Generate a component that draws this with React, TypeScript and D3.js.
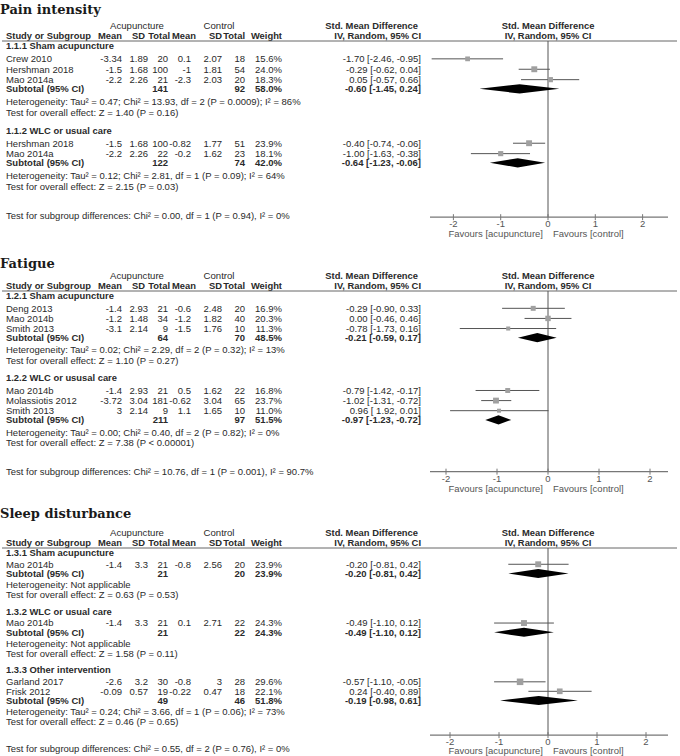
import React from 'react';
import * as d3 from 'd3';

const W = 680;
const H = 756;

// study rows: [subgroup, name, acu mean, acu sd, acu n, ctl mean, ctl sd, ctl n, weight, smd, lo, hi, label?]
const painGroups = ['1.1.1 Sham acupuncture', '1.1.2 WLC or usual care'];
const painStudies: any[] = [
  [0, 'Crew 2010', -3.34, 1.89, 20, 0.1, 2.07, 18, 15.6, -1.7, -2.46, -0.95],
  [0, 'Hershman 2018', -1.5, 1.68, 100, -1, 1.81, 54, 24.0, -0.29, -0.62, 0.04],
  [0, 'Mao 2014a', -2.2, 2.26, 21, -2.3, 2.03, 20, 18.3, 0.05, -0.57, 0.66],
  [1, 'Hershman 2018', -1.5, 1.68, 100, -0.82, 1.77, 51, 23.9, -0.4, -0.74, -0.06],
  [1, 'Mao 2014a', -2.2, 2.26, 22, -0.2, 1.62, 23, 18.1, -1.0, -1.63, -0.38],
];
// [acu total, ctl total, weight, smd, lo, hi]
const painSubtotals = [
  [141, 92, 58.0, -0.6, -1.45, 0.24],
  [122, 74, 42.0, -0.64, -1.23, -0.06],
];
const painHetero = [
  'Heterogeneity: Tau² = 0.47; Chi² = 13.93, df = 2 (P = 0.0009); I² = 86%',
  'Heterogeneity: Tau² = 0.12; Chi² = 2.81, df = 1 (P = 0.09); I² = 64%',
];
const painOverall = ['Test for overall effect: Z = 1.40 (P = 0.16)', 'Test for overall effect: Z = 2.15 (P = 0.03)'];
const painSubgroupTest = 'Test for subgroup differences: Chi² = 0.00, df = 1 (P = 0.94), I² = 0%';

const fatigueGroups = ['1.2.1 Sham acupuncture', '1.2.2 WLC or ususal care'];
const fatigueStudies: any[] = [
  [0, 'Deng 2013', -1.4, 2.93, 21, -0.6, 2.48, 20, 16.9, -0.29, -0.9, 0.33],
  [0, 'Mao 2014b', -1.2, 1.48, 34, -1.2, 1.82, 40, 20.3, 0.0, -0.46, 0.46],
  [0, 'Smith 2013', -3.1, 2.14, 9, -1.5, 1.76, 10, 11.3, -0.78, -1.73, 0.16],
  [1, 'Mao 2014b', -1.4, 2.93, 21, 0.5, 1.62, 22, 16.8, -0.79, -1.42, -0.17],
  [1, 'Molassiotis 2012', -3.72, 3.04, 181, -0.62, 3.04, 65, 23.7, -1.02, -1.31, -0.72],
  [1, 'Smith 2013', 3, 2.14, 9, 1.1, 1.65, 10, 11.0, -0.96, -1.92, 0.01, '0.96 [ 1.92, 0.01]'],
];
const fatigueSubtotals = [
  [64, 70, 48.5, -0.21, -0.59, 0.17],
  [211, 97, 51.5, -0.97, -1.23, -0.72],
];
const fatigueHetero = [
  'Heterogeneity: Tau² = 0.02; Chi² = 2.29, df = 2 (P = 0.32); I² = 13%',
  'Heterogeneity: Tau² = 0.00; Chi² = 0.40, df = 2 (P = 0.82); I² = 0%',
];
const fatigueOverall = ['Test for overall effect: Z = 1.10 (P = 0.27)', 'Test for overall effect: Z = 7.38 (P < 0.00001)'];
const fatigueSubgroupTest = 'Test for subgroup differences: Chi² = 10.76, df = 1 (P = 0.001), I² = 90.7%';

const sleepGroups = ['1.3.1 Sham acupuncture', '1.3.2 WLC or usual care', '1.3.3 Other intervention'];
const sleepStudies: any[] = [
  [0, 'Mao 2014b', -1.4, 3.3, 21, -0.8, 2.56, 20, 23.9, -0.2, -0.81, 0.42],
  [1, 'Mao 2014b', -1.4, 3.3, 21, 0.1, 2.71, 22, 24.3, -0.49, -1.1, 0.12],
  [2, 'Garland 2017', -2.6, 3.2, 30, -0.8, 3, 28, 29.6, -0.57, -1.1, -0.05],
  [2, 'Frisk 2012', -0.09, 0.57, 19, -0.22, 0.47, 18, 22.1, 0.24, -0.4, 0.89],
];
const sleepSubtotals = [
  [21, 20, 23.9, -0.2, -0.81, 0.42],
  [21, 22, 24.3, -0.49, -1.1, 0.12],
  [49, 46, 51.8, -0.19, -0.98, 0.61],
];
const sleepHetero = [
  'Heterogeneity: Not applicable',
  'Heterogeneity: Not applicable',
  'Heterogeneity: Tau² = 0.24; Chi² = 3.66, df = 1 (P = 0.06); I² = 73%',
];
const sleepOverall = [
  'Test for overall effect: Z = 0.63 (P = 0.53)',
  'Test for overall effect: Z = 1.58 (P = 0.11)',
  'Test for overall effect: Z = 0.46 (P = 0.65)',
];
const sleepSubgroupTest = 'Test for subgroup differences: Chi² = 0.55, df = 2 (P = 0.76), I² = 0%';

const tickValues = [-2, -1, 0, 1, 2];

const SANS = '"Liberation Sans", Arial, sans-serif';
const TXT = '#2a2a2a';
const FS = 9.5; // table text
const FB = 9.4; // bold header text
const cols = { m1: 122, sd1: 148, n1: 168, m2: 191, sd2: 222, n2: 245, wt: 282, est: 421 };
const hdr = { m1: 122, sd1: 145, n1: 170, m2: 196, sd2: 222, n2: 245, wt: 282 };

const fmtCI = (e: number, lo: number, hi: number) => `${e.toFixed(2)} [${lo.toFixed(2)}, ${hi.toFixed(2)}]`;

function Panel(props: any) {
  const { title, groups, studies, subtotals, hetero, overall, subgroupTest, titleY, lineY, k, unit, axisShift, favGap } = props;
  const x0 = 548;
  const x = d3.scaleLinear().domain([-2, 2]).range([x0 - 2 * unit, x0 + 2 * unit]);
  const side = d3.scaleSqrt().domain([0, 30]).range([0, 6.6]);

  // vertical layout of rows
  let y = lineY + 5 * k;
  let lastTest = y;
  const blocks = groups.map((g: string, gi: number) => {
    const labelY = y;
    const rows = studies.filter((s: any) => s[0] === gi).map((s: any, i: number) => ({ s, y: labelY + 12.5 * k + i * 10.2 * k }));
    const subY = rows[rows.length - 1].y + 9.2;
    const hetY = subY + 12.5 * k;
    const testY = hetY + 10.8 * k;
    lastTest = testY;
    y = testY + 17.5 * k;
    return { g, gi, labelY, rows, subY, hetY, testY };
  });
  const subgroupY = lastTest + 29 * k;
  const axisY = subgroupY + axisShift;

  const t = (txt: any, tx: number, ty: number, anchor = 'start', bold = false, extra: any = {}) => (
    <text x={tx} y={ty} dy="0.35em" textAnchor={anchor} fontWeight={bold ? 'bold' : 'normal'}
      fontSize={bold ? FB : FS} {...extra}>{txt}</text>
  );

  return (
    <g fontFamily={SANS} fill={TXT}>
      <text x={0} y={titleY} dy="0.35em" fontFamily='"DejaVu Serif", serif' fontSize={13} fontWeight="bold" fill="#1a1a1a">{title}</text>

      {t('Acupuncture', 137, lineY - 15, 'middle', false, { fontSize: 9.6 })}
      {t('Control', 219, lineY - 15, 'middle', false, { fontSize: 9.6 })}
      {t('Std. Mean Difference', 418, lineY - 15, 'end', true)}
      {t('Std. Mean Difference', x(0), lineY - 15, 'middle', true)}
      {t('Study or Subgroup', 6, lineY - 5, 'start', true)}
      {t('Mean', hdr.m1, lineY - 5, 'end', true)}
      {t('SD', hdr.sd1, lineY - 5, 'end', true)}
      {t('Total', hdr.n1, lineY - 5, 'end', true)}
      {t('Mean', hdr.m2, lineY - 5, 'end', true)}
      {t('SD', hdr.sd2, lineY - 5, 'end', true)}
      {t('Total', hdr.n2, lineY - 5, 'end', true)}
      {t('Weight', hdr.wt, lineY - 5, 'end', true)}
      {t('IV, Random, 95% CI', cols.est, lineY - 5, 'end', true)}
      {t('IV, Random, 95% CI', x(0), lineY - 5, 'middle', true)}
      <line x1={2} x2={677} y1={lineY} y2={lineY} stroke="#666" strokeWidth={1} />

      <line x1={x(0)} x2={x(0)} y1={lineY} y2={axisY} stroke="#555" strokeWidth={1} />

      {blocks.map((b: any) => {
        const [n1, n2, wt, e, lo, hi] = subtotals[b.gi];
        const dh = 4.6;
        return (
          <g key={b.gi}>
            {t(b.g, 6, b.labelY, 'start', true)}
            {b.rows.map((r: any, i: number) => {
              const s = r.s;
              const sz = side(s[8]);
              return (
                <g key={i}>
                  {t(s[1], 6, r.y)}
                  {t(String(s[2]), cols.m1, r.y, 'end')}
                  {t(String(s[3]), cols.sd1, r.y, 'end')}
                  {t(String(s[4]), cols.n1, r.y, 'end')}
                  {t(String(s[5]), cols.m2, r.y, 'end')}
                  {t(String(s[6]), cols.sd2, r.y, 'end')}
                  {t(String(s[7]), cols.n2, r.y, 'end')}
                  {t(s[8].toFixed(1) + '%', cols.wt, r.y, 'end')}
                  {t(s[12] || fmtCI(s[9], s[10], s[11]), cols.est, r.y, 'end')}
                  <line x1={x(s[10])} x2={x(s[11])} y1={r.y} y2={r.y} stroke="#555" strokeWidth={1} />
                  <rect x={x(s[9]) - sz / 2} y={r.y - sz / 2} width={sz} height={sz} fill="#a0a0a0" />
                </g>
              );
            })}
            {t('Subtotal (95% CI)', 6, b.subY, 'start', true, { fontSize: FS })}
            {t(String(n1), cols.n1, b.subY, 'end', true, { fontSize: FS })}
            {t(String(n2), cols.n2, b.subY, 'end', true, { fontSize: FS })}
            {t(wt.toFixed(1) + '%', cols.wt, b.subY, 'end', true, { fontSize: FS })}
            {t(fmtCI(e, lo, hi), cols.est, b.subY, 'end', true, { fontSize: FS })}
            <path d={`M${x(lo)},${b.subY} L${x(e)},${b.subY - dh} L${x(hi)},${b.subY} L${x(e)},${b.subY + dh} Z`} fill="#000" />
            {t(hetero[b.gi], 6, b.hetY)}
            {t(overall[b.gi], 6, b.testY)}
          </g>
        );
      })}

      {t(subgroupTest, 6, subgroupY)}

      <line x1={430} x2={668} y1={axisY} y2={axisY} stroke="#777" strokeWidth={1.2} />
      {tickValues.map((v) => (
        <g key={v}>
          <line x1={x(v)} x2={x(v)} y1={axisY - 3} y2={axisY + 3} stroke="#777" />
          {t(String(v), x(v), axisY + 7, 'middle', false, { fill: '#555' })}
        </g>
      ))}
      {t('Favours [acupuncture]', x(0) - 5, axisY + favGap, 'end', false, { fill: '#555' })}
      {t('Favours [control]', x(0) + 5, axisY + favGap, 'start', false, { fill: '#555' })}
    </g>
  );
}

export default function App() {
  return (
    <svg width={W} height={H} viewBox={`0 0 ${W} ${H}`} style={{ position: 'absolute', left: 0, top: 0, display: 'block', background: '#fff' }}>
      <rect width={W} height={H} fill="#fff" />
      <Panel title="Pain intensity" groups={painGroups} studies={painStudies} subtotals={painSubtotals}
        hetero={painHetero} overall={painOverall} subgroupTest={painSubgroupTest}
        titleY={9} lineY={41} k={1.02} unit={47.3} axisShift={1} favGap={17} />
      <Panel title="Fatigue" groups={fatigueGroups} studies={fatigueStudies} subtotals={fatigueSubtotals}
        hetero={fatigueHetero} overall={fatigueOverall} subgroupTest={fatigueSubgroupTest}
        titleY={263} lineY={291} k={0.99} unit={51} axisShift={0} favGap={17} />
      <Panel title="Sleep disturbance" groups={sleepGroups} studies={sleepStudies} subtotals={sleepSubtotals}
        hetero={sleepHetero} overall={sleepOverall} subgroupTest={sleepSubgroupTest}
        titleY={513} lineY={548} k={0.93} unit={49} axisShift={-14} favGap={15.5} />
    </svg>
  );
}
